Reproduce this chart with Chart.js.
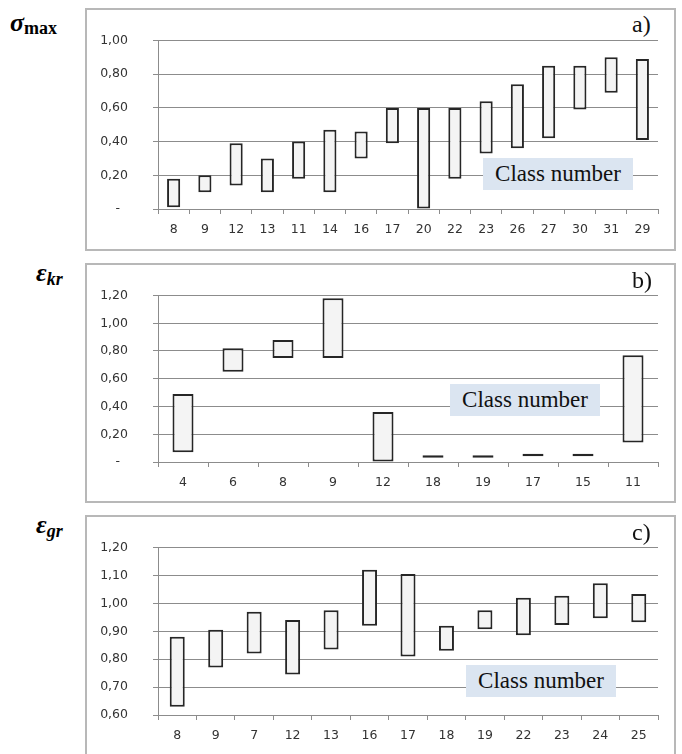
<!DOCTYPE html>
<html>
<head>
<meta charset="utf-8">
<script src="https://cdn.jsdelivr.net/npm/chart.js@4/dist/chart.umd.min.js"></script>
<style>
  html, body { margin: 0; padding: 0; background: #fff; }
  body { width: 682px; height: 754px; position: relative; overflow: hidden; }
  .frame { position: absolute; box-sizing: border-box; border: 2px solid #b8b8b8; background: #fff; }
  canvas { position: absolute; }
  .ttl { position: absolute; font-family: "Liberation Serif", "Times New Roman", serif; font-weight: bold; color: #000; white-space: nowrap; }
  .ttl .big { font-size: 26px; font-style: italic; }
  .ttl .sub { font-size: 18px; position: relative; top: 3px; }
  .ttl .subi { font-size: 18px; font-style: italic; position: relative; top: 4px; }
  .tag { position: absolute; font-family: "Liberation Serif", "Times New Roman", serif; font-size: 24px; line-height: 28px; background: #fff; color: #111; padding: 0 2px; }
  .cls { position: absolute; width: 150px; height: 32px; line-height: 32px; text-align: center; background: #dbe5f1; font-family: "Liberation Serif", "Times New Roman", serif; font-size: 23px; color: #111; }
</style>
</head>
<body>
<div class="frame" style="left:85px; top:8px; width:591px; height:243px;"></div>
<div class="frame" style="left:85px; top:263px; width:591px; height:240px;"></div>
<div class="frame" style="left:85px; top:515px; width:591px; height:260px;"></div>

<canvas id="ca" width="590" height="242" style="left:85px; top:8px;"></canvas>
<canvas id="cb" width="590" height="239" style="left:85px; top:263px;"></canvas>
<canvas id="cc" width="590" height="239" style="left:85px; top:515px;"></canvas>

<div class="ttl" style="left:10px; top:8px;"><span class="big">σ</span><span class="sub">max</span></div>
<div class="ttl" style="left:36px; top:258px;"><span class="big">ε</span><span class="subi">kr</span></div>
<div class="ttl" style="left:36px; top:510px;"><span class="big">ε</span><span class="subi">gr</span></div>

<div class="tag" style="left:630px; top:10px;">a)</div>
<div class="tag" style="left:630px; top:266px;">b)</div>
<div class="tag" style="left:630px; top:518px;">c)</div>

<div class="cls" style="left:483px; top:158px;">Class number</div>
<div class="cls" style="left:450px; top:384px;">Class number</div>
<div class="cls" style="left:466px; top:665px;">Class number</div>

<script>
// ---- Panel a) sigma_max ----
const catA  = ['8','9','12','13','11','14','16','17','20','22','23','26','27','30','31','29'];
const lowA  = [0.01,0.10,0.14,0.10,0.18,0.10,0.30,0.39,0.00,0.18,0.33,0.36,0.42,0.59,0.69,0.41];
const highA = [0.18,0.20,0.39,0.30,0.40,0.47,0.46,0.60,0.60,0.60,0.64,0.74,0.85,0.85,0.90,0.89];
const tickValsA   = [0, 0.2, 0.4, 0.6, 0.8, 1.0];
const tickLabelsA = ['-  ', '0,20', '0,40', '0,60', '0,80', '1,00'];

// ---- Panel b) epsilon_kr ----
const catB  = ['4','6','8','9','12','18','19','17','15','11'];
const lowB  = [0.07,0.65,0.75,0.75,0.00,0.031,0.031,0.042,0.042,0.14];
const highB = [0.49,0.82,0.88,1.18,0.36,0.048,0.048,0.059,0.059,0.77];
const tickValsB   = [0, 0.2, 0.4, 0.6, 0.8, 1.0, 1.2];
const tickLabelsB = ['-  ', '0,20', '0,40', '0,60', '0,80', '1,00', '1,20'];

// ---- Panel c) epsilon_gr ----
const catC  = ['8','9','7','12','13','16','17','18','19','22','23','24','25'];
const lowC  = [0.63,0.77,0.82,0.745,0.835,0.92,0.81,0.83,0.907,0.886,0.922,0.947,0.932];
const highC = [0.88,0.905,0.97,0.94,0.975,1.12,1.105,0.92,0.975,1.02,1.027,1.072,1.033];
const tickValsC   = [0.6, 0.7, 0.8, 0.9, 1.0, 1.1, 1.2];
const tickLabelsC = ['0,60', '0,70', '0,80', '0,90', '1,00', '1,10', '1,20'];

const GRID = '#8c8c8c';
const FONT = { family: 'DejaVu Sans', size: 12.5 };

function makeChart(id, cats, lows, highs, tickVals, tickLabels, barFrac, padTop, xAxisH) {
  new Chart(document.getElementById(id), {
    type: 'bar',
    data: {
      labels: cats,
      datasets: [{
        data: cats.map((c, i) => [lows[i], highs[i]]),
        backgroundColor: '#f4f4f4',
        borderColor: '#262626',
        borderWidth: 2,
        borderSkipped: false,
        categoryPercentage: 1.0,
        barPercentage: barFrac
      }]
    },
    options: {
      responsive: false,
      animation: false,
      events: [],
      layout: { padding: { top: padTop, right: 17, left: 0, bottom: 0 } },
      plugins: { legend: { display: false }, tooltip: { enabled: false } },
      scales: {
        x: {
          offset: true,
          grid: { offset: true, drawOnChartArea: false, drawTicks: true, tickLength: 5, color: GRID, lineWidth: 1 },
          border: { display: true, color: GRID, width: 1 },
          ticks: { color: '#333', font: FONT, padding: 8, maxRotation: 0, autoSkip: false },
          afterFit: s => { s.height = xAxisH; }
        },
        y: {
          min: tickVals[0],
          max: tickVals[tickVals.length - 1],
          afterBuildTicks: s => { s.ticks = tickVals.map(v => ({ value: v })); },
          grid: { drawTicks: true, tickLength: 5, color: GRID, lineWidth: 1 },
          border: { display: true, color: GRID, width: 1 },
          ticks: { color: '#333', font: FONT, padding: 25, callback: (v, i) => tickLabels[i] },
          afterFit: s => { s.width = 73; }
        }
      }
    }
  });
}

makeChart('ca', catA, lowA, highA, tickValsA, tickLabelsA, 0.42, 19, 41);
makeChart('cb', catB, lowB, highB, tickValsB, tickLabelsB, 0.42, 18, 40);
makeChart('cc', catC, lowC, highC, tickValsC, tickLabelsC, 0.39, 18, 39);
</script>
</body>
</html>
